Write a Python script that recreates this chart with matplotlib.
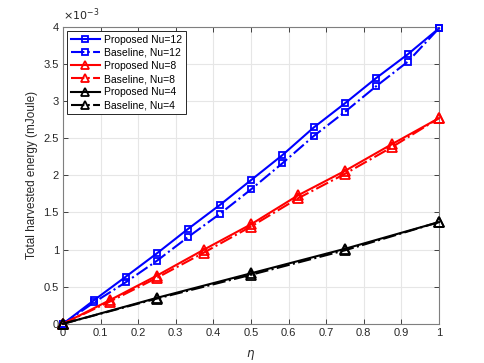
import matplotlib
matplotlib.use("Agg")
import matplotlib.pyplot as plt

# harvested energy (units of 1e-3 mJoule)
eta12 = [0, 0.083, 0.167, 0.25, 0.333, 0.417, 0.5, 0.583, 0.667, 0.75, 0.833, 0.917, 1.0]
prop12 = [0, 0.32, 0.635, 0.95, 1.28, 1.60, 1.935, 2.27, 2.645, 2.97, 3.31, 3.63, 3.98]
base12 = [0, 0.29, 0.56, 0.85, 1.17, 1.48, 1.81, 2.16, 2.53, 2.855, 3.20, 3.53, 3.98]

eta8 = [0, 0.125, 0.25, 0.375, 0.5, 0.625, 0.75, 0.875, 1.0]
prop8 = [0, 0.32, 0.65, 1.0, 1.34, 1.73, 2.06, 2.42, 2.77]
base8 = [0, 0.30, 0.62, 0.96, 1.31, 1.69, 2.02, 2.38, 2.77]

eta4 = [0, 0.25, 0.5, 0.75, 1.0]
prop4 = [0, 0.35, 0.68, 1.01, 1.37]
base4 = [0, 0.34, 0.66, 0.99, 1.37]

labels = ["Proposed Nu=12", "Baseline, Nu=12", "Proposed Nu=8",
          "Baseline, Nu=8", "Proposed Nu=4", "Baseline, Nu=4"]
xtick_labels = ["0", "0.1", "0.2", "0.3", "0.4", "0.5", "0.6", "0.7", "0.8", "0.9", "1"]
ytick_labels = ["0", "0.5", "1", "1.5", "2", "2.5", "3", "3.5", "4"]

plt.rcParams['font.family'] = ['Liberation Sans', 'DejaVu Sans']

fig = plt.figure(figsize=(4.85, 3.63), dpi=100)
ax = fig.add_axes([0.13, 0.108, 0.775, 0.818])

series = [
    (eta12, prop12, 'b', 's', '-', 4.6),
    (eta12, base12, 'b', 's', '-.', 4.6),
    (eta8, prop8, 'r', '^', '-', 6.5),
    (eta8, base8, 'r', '^', '-.', 6.5),
    (eta4, prop4, 'k', '^', '-', 6.5),
    (eta4, base4, 'k', '^', '-.', 6.5),
]
for (x, y, c, m, ls, ms), lab in zip(series, labels):
    ax.plot(x, y, color=c, marker=m, linestyle=ls,
            linewidth=1.5, markersize=ms, markerfacecolor='none',
            markeredgewidth=1.3, label=lab, clip_on=False, zorder=3)

ax.set_xlim(0, 1)
ax.set_ylim(0, 4)
ax.set_xticks([float(s) for s in xtick_labels])
ax.set_xticklabels(xtick_labels)
ax.set_yticks([float(s) for s in ytick_labels])
ax.set_yticklabels(ytick_labels)
ax.text(0.0, 1.012, r'$\times10^{-3}$', transform=ax.transAxes, fontsize=8,
        color='#262626', ha='left', va='bottom')

ax.grid(True, color='#e6e6e6', linewidth=0.8)
ax.set_axisbelow(True)
ax.tick_params(direction='in', length=3.5, width=0.6, top=True, right=True,
               labelsize=8, colors='#262626', pad=3)
for s in ax.spines.values():
    s.set_color('#7f7f7f')
    s.set_linewidth(0.8)

ax.set_xlabel(r'$\eta$', fontsize=8.5, color='#262626', labelpad=7)
ax.set_ylabel('Total harvested energy (mJoule)', fontsize=8.5, color='#262626')

leg = ax.legend(loc='upper left', fontsize=7.5, fancybox=False, framealpha=1,
                edgecolor='#262626', handlelength=2.8, labelspacing=0.3,
                borderaxespad=0.4, handletextpad=0.4, borderpad=0.35,
                markerscale=0.85)
leg.get_frame().set_linewidth(0.7)

fig.savefig("out.png", dpi=100)
